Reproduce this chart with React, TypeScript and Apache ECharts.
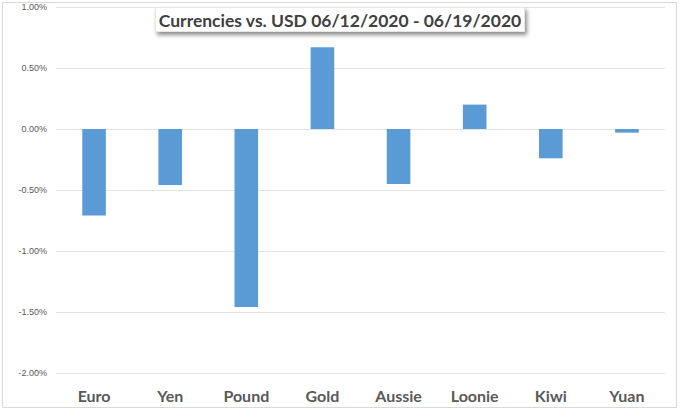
import React, { useEffect, useRef } from 'react'
import * as echarts from 'echarts'

const categories = ['Euro', 'Yen', 'Pound', 'Gold', 'Aussie', 'Loonie', 'Kiwi', 'Yuan']
const weeklyChange = [-0.71, -0.46, -1.46, 0.67, -0.45, 0.2, -0.24, -0.03]
const titleText = 'Currencies vs. USD 06/12/2020 - 06/19/2020'

const App: React.FC = () => {
  const chartRef = useRef<HTMLDivElement>(null)

  useEffect(() => {
    if (!chartRef.current) return
    const chart = echarts.init(chartRef.current, undefined, { renderer: 'svg' })

    const option: echarts.EChartsOption = {
      animation: false,
      backgroundColor: '#ffffff',
      title: {
        text: titleText,
        left: 'center',
        top: 7,
        padding: [4, 3, 3, 3],
        backgroundColor: '#ffffff',
        borderColor: '#e6e6e6',
        borderWidth: 1,
        shadowBlur: 4,
        shadowOffsetX: 2,
        shadowOffsetY: 3,
        shadowColor: 'rgba(0,0,0,0.45)',
        textStyle: {
          fontFamily: 'Lato',
          fontSize: 17.5,
          fontWeight: 'bold',
          color: '#404040',
        },
      },
      grid: { left: 56, right: 15, top: 7, bottom: 37 },
      xAxis: {
        type: 'category',
        data: categories,
        axisLine: { show: false, onZero: false },
        axisTick: { show: false },
        axisLabel: {
          margin: 14,
          fontFamily: 'Lato',
          fontSize: 16,
          fontWeight: 'bold',
          color: '#595959',
        },
      },
      yAxis: {
        type: 'value',
        min: -2,
        max: 1,
        interval: 0.5,
        axisLine: { show: false },
        axisTick: { show: false },
        splitLine: { lineStyle: { color: '#e3e3e3', width: 1 } },
        axisLabel: {
          margin: 9,
          fontFamily: 'Liberation Sans',
          fontSize: 9,
          color: '#595959',
          formatter: (v: number) => v.toFixed(2) + '%',
        },
      },
      series: [
        {
          type: 'bar',
          data: weeklyChange,
          barWidth: '31%',
          itemStyle: { color: '#5b9bd5' },
        },
      ],
      graphic: [
        {
          type: 'rect',
          shape: { x: 2.5, y: 2.5, width: 674, height: 405 },
          style: { fill: 'none', stroke: '#d9d9d9', lineWidth: 1 },
          silent: true,
          z: -1,
        },
      ],
    }

    chart.setOption(option)
    return () => {
      chart.dispose()
    }
  }, [])

  return (
    <div
      ref={chartRef}
      style={{ position: 'fixed', left: 0, top: 0, width: '680px', height: '410px' }}
    />
  )
}

export default App
